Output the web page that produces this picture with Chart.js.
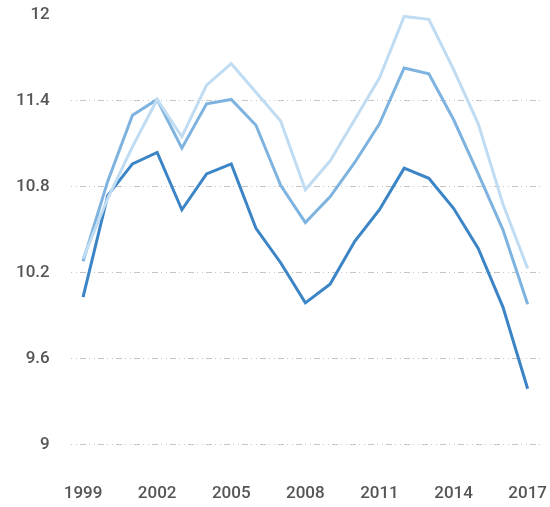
<!DOCTYPE html>
<html>
<head>
<meta charset="utf-8">
<script src="https://cdn.jsdelivr.net/npm/chart.js@4"></script>
<style>
  html, body { margin: 0; padding: 0; background: #ffffff; }
  #wrap { width: 550px; height: 507px; }
</style>
</head>
<body>
<div id="wrap"><canvas id="chart" width="550" height="507"></canvas></div>
<script>
const years = [1999, 2000, 2001, 2002, 2003, 2004, 2005, 2006, 2007, 2008,
               2009, 2010, 2011, 2012, 2013, 2014, 2015, 2016, 2017];

const lightValues  = [10.30, 10.72, 11.08, 11.41, 11.15, 11.51, 11.66, 11.46, 11.26, 10.78,
                      10.98, 11.27, 11.56, 11.99, 11.97, 11.62, 11.24, 10.68, 10.23];
const mediumValues = [10.28, 10.84, 11.30, 11.41, 11.07, 11.38, 11.41, 11.23, 10.81, 10.55,
                      10.73, 10.97, 11.24, 11.63, 11.59, 11.27, 10.89, 10.50, 9.98];
const darkValues   = [10.03, 10.74, 10.96, 11.04, 10.64, 10.89, 10.96, 10.51, 10.27, 9.99,
                      10.12, 10.42, 10.64, 10.93, 10.86, 10.65, 10.37, 9.96, 9.39];

const yTicks = [9, 9.6, 10.2, 10.8, 11.4, 12];
const shownYears = [1999, 2002, 2005, 2008, 2011, 2014, 2017];

Chart.defaults.font.family = 'Roboto, "Noto Sans", sans-serif';
Chart.defaults.color = '#555555';

function lineSet(data, color)
{
    return {
        data: data,
        borderColor: color,
        backgroundColor: color,
        borderWidth: 3,
        pointRadius: 0,
        tension: 0,
        fill: false
    };
}

new Chart(document.getElementById("chart"), {
    type: 'line',
    data: {
        labels: years,
        datasets: [
            lineSet(lightValues, '#c0dcf2'),
            lineSet(mediumValues, '#7eb3e0'),
            lineSet(darkValues, '#3b84c5')
        ]
    },
    options: {
        responsive: false,
        animation: false,
        layout: { padding: { top: 15, right: 10, left: 16, bottom: 3 } },
        plugins: {
            legend: { display: false },
            tooltip: { enabled: false }
        },
        scales: {
            x: {
                offset: true,
                // transparent grid, tick length used only as label gap
                grid: { color: 'rgba(0,0,0,0)', drawOnChartArea: false, tickLength: 39, tickColor: 'rgba(0,0,0,0)' },
                border: { display: false },
                ticks: {
                    autoSkip: false,
                    maxRotation: 0,
                    padding: 0,
                    font: { size: 17, weight: '500' },
                    callback: function(value, index) {
                        const y = years[index];
                        return shownYears.includes(y) ? String(y) : null;
                    }
                }
            },
            y: {
                min: 9,
                max: 12,
                afterBuildTicks: axis => { axis.ticks = yTicks.map(v => ({ value: v })); },
                grid: {
                    tickLength: 21,
                    tickColor: 'rgba(0,0,0,0)',
                    color: ctx => ctx.tick && ctx.tick.value === 12 ? 'rgba(0,0,0,0)' : '#c4c4c4',
                    lineWidth: 1
                },
                border: { display: false, dash: [1, 4, 1, 3, 6, 3] },
                ticks: {
                    padding: 0,
                    font: { size: 17, weight: '500' },
                    callback: v => String(v)
                }
            }
        }
    }
});
</script>
</body>
</html>
